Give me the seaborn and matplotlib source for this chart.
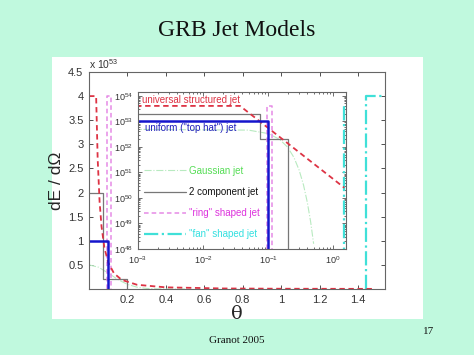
import numpy as np
import pandas as pd
import seaborn as sns
import matplotlib.pyplot as plt
from matplotlib.patches import Rectangle
from matplotlib.lines import Line2D

sns.set_theme(style="ticks")
plt.rcParams['font.family'] = ['Liberation Sans', 'DejaVu Sans']
plt.rcParams['mathtext.fontset'] = 'custom'
plt.rcParams['mathtext.rm'] = 'Liberation Sans'
for a in ('xtick', 'ytick'):
    plt.rcParams[a + '.direction'] = 'in'

# dE/dOmega in units of 1e53
univ_theta = [0.0001, 0.037, 0.045, 0.055, 0.065, 0.08, 0.1, 0.13, 0.17, 0.25, 0.4, 0.7, 1.0, 1.48]
univ_E = [4, 4, 2.70, 1.81, 1.30, 0.856, 0.548, 0.324, 0.19, 0.0876, 0.0342, 0.0112, 0.0055, 0.0025]

tophat_theta = [0.0001, 0.1, 0.1]
tophat_E = [1, 1, 0]

gauss_theta = [0.0001, 0.05, 0.1, 0.15, 0.2, 0.25, 0.3, 0.35, 0.4, 0.45, 0.5]
gauss_E = [0.5, 0.451, 0.331, 0.197, 0.0958, 0.0378, 0.0121, 0.00317, 0.00067, 0.000116, 0.000016]

twocomp_theta = [0.0001, 0.075, 0.075, 0.2, 0.2]
twocomp_E = [2, 2, 0.2, 0.2, 0]

ring_theta = [0.095, 0.095, 0.115, 0.115]
ring_E = [0, 4, 4, 0]

fan_theta = [1.44, 1.44, 1.5708]
fan_E = [0, 4, 4]

x_ticks = [0.2, 0.4, 0.6, 0.8, 1.0, 1.2, 1.4]
x_labels = ['0.2', '0.4', '0.6', '0.8', '1', '1.2', '1.4']
y_ticks = [0.5, 1, 1.5, 2, 2.5, 3, 3.5, 4, 4.5]
y_labels = ['0.5', '1', '1.5', '2', '2.5', '3', '3.5', '4', '4.5']

styles = {
    'univ': dict(color='#dd3344', ls=(0, (3, 2)), lw=1.3),
    'tophat': dict(color='#1515cc', ls='-', lw=1.8),
    'gauss': dict(color='#b8eac0', ls='-.', lw=0.8),
    'twocomp': dict(color='#777777', ls='-', lw=0.9),
    'ring': dict(color='#e58ae5', ls=(0, (3, 2)), lw=1.1),
    'fan': dict(color='#40e0d8', ls='-.', lw=1.6),
}
series = [('gauss', gauss_theta, gauss_E), ('twocomp', twocomp_theta, twocomp_E),
          ('ring', ring_theta, ring_E), ('fan', fan_theta, fan_E),
          ('univ', univ_theta, univ_E), ('tophat', tophat_theta, tophat_E)]

fig = plt.figure(figsize=(4.74, 3.55), dpi=100, facecolor='#c0f9de')
fig.patches.append(Rectangle((0.1097, 0.1014), 0.7827, 0.738, transform=fig.transFigure,
                             facecolor='white', edgecolor='none', zorder=-10))

ax = fig.add_axes([0.1878, 0.1859, 0.6245, 0.6113])
for name, th, e in series:
    df = pd.DataFrame({'theta': th, 'E': e})
    sns.lineplot(data=df, x='theta', y='E', sort=False, estimator=None, ax=ax, **styles[name])
ax.set_xlim(0, 1.54)
ax.set_ylim(0, 4.5)
ax.set_xticks(x_ticks)
ax.set_xticklabels(x_labels)
ax.set_yticks(y_ticks)
ax.set_yticklabels(y_labels)
ax.tick_params(top=True, right=True, length=3, width=0.6, labelsize=8, colors='#333333', pad=4)
for s in ax.spines.values():
    s.set_color('#666666')
    s.set_linewidth(0.8)
ax.set_xlabel('\u03b8', fontsize=14, family='DejaVu Serif', labelpad=0)
ax.set_ylabel('dE / d\u03a9', fontsize=12.5, labelpad=3)
ax.text(0.0, 1.015, r'x 10$^{53}$', transform=ax.transAxes, fontsize=7.5, color='#333333')

# inset, log-log
axi = fig.add_axes([0.2911, 0.2986, 0.4388, 0.4422])
for name, th, e in series:
    df = pd.DataFrame({'theta': th, 'E': np.array(e) * 1e53})
    sns.lineplot(data=df, x='theta', y='E', sort=False, estimator=None, ax=axi, **styles[name])
axi.set_xscale('log')
axi.set_yscale('log')
axi.set_xlim(1e-3, 1.5708)
axi.set_ylim(1e48, 1.4e54)
axi.set_xticks([1e-3, 1e-2, 1e-1, 1e0])
axi.set_yticks([1e48, 1e49, 1e50, 1e51, 1e52, 1e53, 1e54])
axi.tick_params(which='both', top=True, right=True, labelsize=6.5, colors='#333333', width=0.5)
axi.tick_params(which='major', length=3)
axi.tick_params(which='minor', length=1.5)
axi.set_xlabel('')
axi.set_ylabel('')
for s in axi.spines.values():
    s.set_color('#666666')
    s.set_linewidth(0.8)

axi.text(0.02, 0.95, 'universal structured jet', transform=axi.transAxes, fontsize=7,
         color='#dd3344', va='center')
axi.text(0.035, 0.77, 'uniform ("top hat") jet', transform=axi.transAxes, fontsize=7,
         color='#2020bb', va='center')

leg_labels = ['Gaussian jet', '2 component jet', '"ring" shaped jet', '"fan" shaped jet']
leg_names = ['gauss', 'twocomp', 'ring', 'fan']
leg_colors = ['#55dd55', '#111111', '#dd33dd', '#33e0e0']
handles = [Line2D([], [], **styles[n]) for n in leg_names]
axi.legend(handles, leg_labels, loc='upper left', bbox_to_anchor=(0.03, 0.53), frameon=False,
           fontsize=7, labelcolor=leg_colors, handlelength=4.3, handletextpad=0.3,
           labelspacing=1.15, borderpad=0, borderaxespad=0)

fig.text(0.5, 0.915, 'GRB Jet Models', ha='center', va='center', fontsize=17,
         family='Liberation Serif', color='#111111')
fig.text(0.5, 0.042, 'Granot 2005', ha='center', va='center', fontsize=8,
         family='Liberation Serif', color='#111111')
fig.text(0.905, 0.065, '17', ha='center', va='center', fontsize=8,
         family='Liberation Serif', color='#111111')

fig.savefig('out.png', dpi=100, facecolor=fig.get_facecolor())
